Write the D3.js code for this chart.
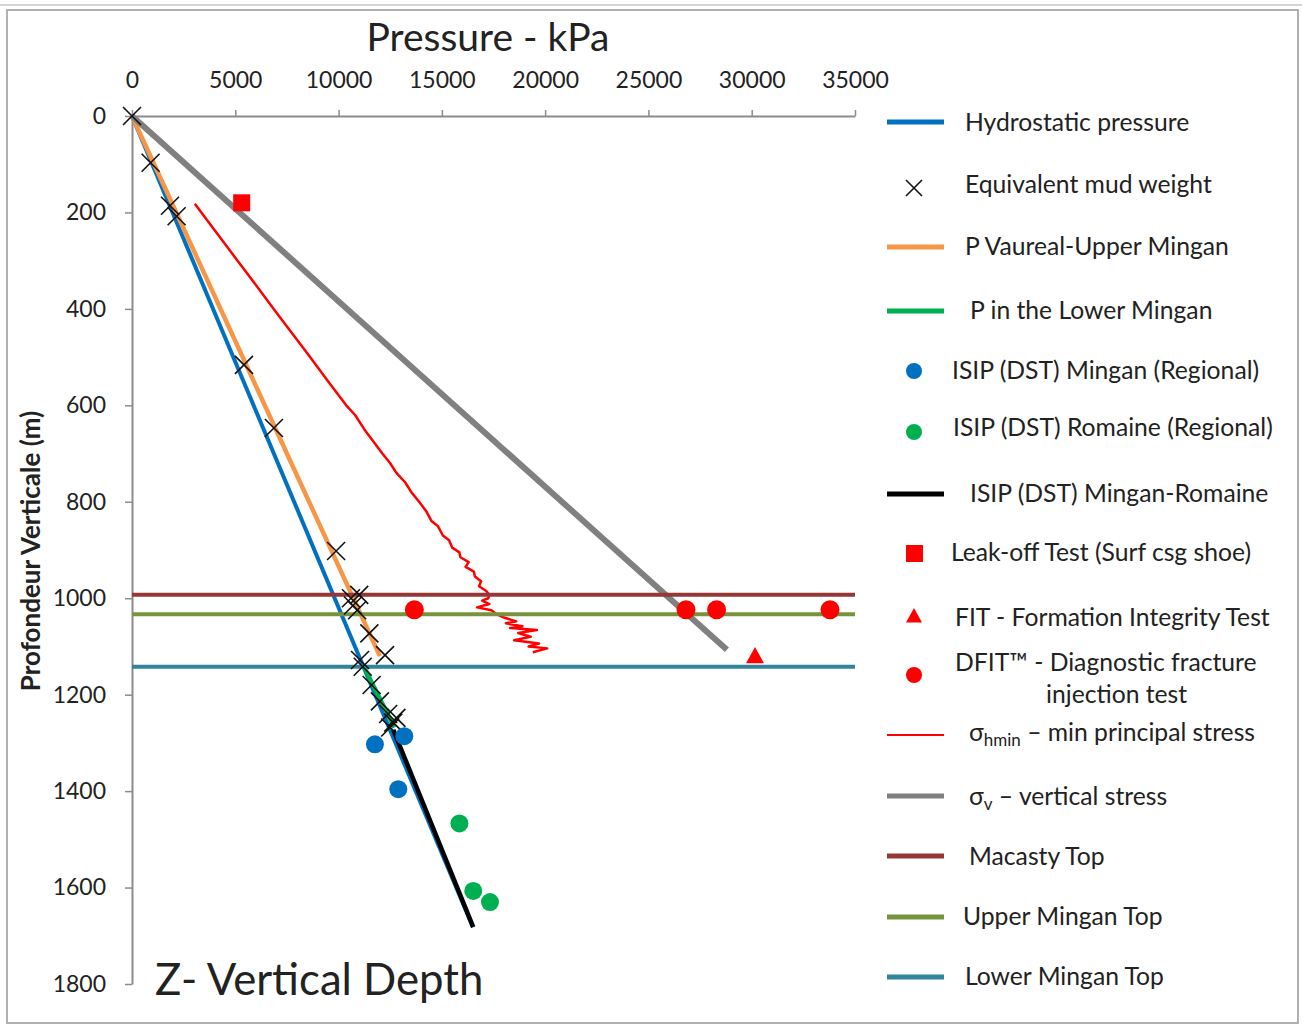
<!DOCTYPE html>
<html>
<head>
<meta charset="utf-8">
<script src="https://cdn.jsdelivr.net/npm/d3@7"></script>
<style>
  body { margin: 0; background: #fff; }
  text { font-family: Lato, "Open Sans", sans-serif; fill: #222; }
</style>
</head>
<body>
<svg id="canvas" width="1302" height="1026"></svg>
<script>
// axis ticks
let pressureTicks = [0, 5000, 10000, 15000, 20000, 25000, 30000, 35000]
let depthTicks = [0, 200, 400, 600, 800, 1000, 1200, 1400, 1600, 1800]

// lines (pressure kPa / depth m)
let hydroP = [0, 16500], hydroD = [0, 1682]
let vaurealP = [0, 12000], vaurealD = [0, 1120]
let lowerMinganP = [11200, 12700], lowerMinganD = [1140, 1268]
let isipLineP = [12650, 16520], isipLineD = [1273, 1682]
let sigmaVP = [0, 28800], sigmaVD = [0, 1107]

// sigma hmin curve
let sigmaHP = [3040, 4230, 5110, 5990, 6860, 7740, 8620, 9490, 10370, 10800, 11250, 12120, 12500, 12800,
  13230, 13520, 13900, 14250, 14500, 14800, 15050, 15350, 15500, 15850, 15900, 16300, 16150, 16550,
  16600, 16900, 16800, 17150, 17300, 17250, 16950, 17300, 16700, 17400, 17650, 18000, 18600, 18100,
  18900, 18300, 19600, 18700, 19300, 18500, 19700, 19200, 20100, 19400]
let sigmaHD = [182, 250, 300, 350, 400, 450, 500, 550, 600, 620, 650, 700, 720, 740,
  760, 780, 800, 820, 840, 850, 870, 880, 895, 905, 915, 925, 935, 945,
  955, 965, 975, 985, 993, 1000, 1005, 1012, 1019, 1025, 1033, 1040, 1048, 1052,
  1058, 1062, 1066, 1072, 1080, 1087, 1094, 1100, 1104, 1112]

// equivalent mud weight points
let mudP = [0, 900, 1840, 2160, 5420, 6870, 9880, 10600, 11000, 10700, 10900, 11490, 12250, 11040, 11170,
  11600, 12000, 12400, 12650, 12800, 12500]
let mudD = [0, 97, 186, 208, 516, 647, 902, 1000, 993, 1015, 1025, 1073, 1118, 1128, 1142,
  1180, 1214, 1240, 1258, 1248, 1268]

let isipMinganP = [11760, 13180, 12890], isipMinganD = [1303, 1286, 1396]
let isipRomaineP = [15850, 16520, 17330], isipRomaineD = [1467, 1607, 1630]
let leakOffP = [5310], leakOffD = [180]
let fitP = [30160], fitD = [1120]
let dfitP = [13670, 26820, 28300, 33790], dfitD = [1024, 1024, 1024, 1024]

let topNames = ['Macasty Top', 'Upper Mingan Top', 'Lower Mingan Top']
let topDepths = [993, 1033, 1142]

let colors = {
  hydro: '#0070C0', vaureal: '#F79646', lowerMingan: '#00B050', isipLine: '#000000',
  sigmaH: '#FF0000', sigmaV: '#808080', macasty: '#953735', upper: '#77933C', lower: '#31849B',
  romaine: '#00B050', red: '#FF0000'
}

let canvas = d3.select('#canvas')

// frame
canvas.append('line').attr('x1', 0).attr('x2', 1302).attr('y1', 5).attr('y2', 5)
      .attr('stroke', '#d4d4d4').attr('stroke-width', 2)
canvas.append('rect').attr('x', 7).attr('y', 10).attr('width', 1291).attr('height', 1013)
      .attr('fill', 'none').attr('stroke', '#b0b0b0').attr('stroke-width', 2)

let x = d3.scaleLinear().domain([0, 35000]).range([132, 855])
let y = d3.scaleLinear().domain([0, 1800]).range([116, 984])

let xAxis = d3.axisTop(x).tickValues(pressureTicks).tickSize(6).tickSizeOuter(0).tickPadding(22)
              .tickFormat(d3.format('d'))
let yAxis = d3.axisLeft(y).tickValues(depthTicks).tickSize(7).tickSizeOuter(0).tickPadding(19)
              .tickFormat(d3.format('d'))

let gx = canvas.append('g').attr('transform', 'translate(0,116)').call(xAxis)
let gy = canvas.append('g').attr('transform', 'translate(132,0)').call(yAxis)
;[gx, gy].forEach(g => {
  g.select('.domain').attr('stroke', '#8c8c8c').attr('stroke-width', 2)
  g.selectAll('.tick line').attr('stroke', '#8c8c8c').attr('stroke-width', 1.5)
  g.selectAll('.tick text').attr('font-size', 23).attr('fill', '#222')
    .style('font-family', 'Lato, sans-serif')
})

// titles
canvas.append('text').attr('x', 488).attr('y', 51).attr('text-anchor', 'middle')
      .attr('font-size', 39).text('Pressure - kPa')
canvas.append('text').attr('transform', 'translate(40,551) rotate(-90)').attr('text-anchor', 'middle')
      .attr('font-size', 26).attr('font-weight', 'bold').text('Profondeur Verticale (m)')
canvas.append('text').attr('x', 155).attr('y', 995).attr('font-size', 43.7).text('Z- Vertical Depth')

let zip = (ps, ds) => ps.map((p, i) => [p, ds[i]])
let line = d3.line().x(d => x(d[0])).y(d => y(d[1]))

let drawLine = (ps, ds, color, width) => {
  canvas.append('path').datum(zip(ps, ds)).attr('d', line)
        .attr('fill', 'none').attr('stroke', color).attr('stroke-width', width)
        .attr('stroke-linejoin', 'round')
}

drawLine(hydroP, hydroD, colors.hydro, 4)
drawLine(vaurealP, vaurealD, colors.vaureal, 4.5)
drawLine(lowerMinganP, lowerMinganD, colors.lowerMingan, 4.5)
drawLine(isipLineP, isipLineD, colors.isipLine, 4.5)
drawLine(sigmaHP, sigmaHD, colors.sigmaH, 2.5)
drawLine(sigmaVP, sigmaVD, colors.sigmaV, 6)

// formation tops
let topColors = [colors.macasty, colors.upper, colors.lower]
canvas.selectAll('line.top')
      .data(topDepths)
      .enter()
      .append('line')
      .attr('class', 'top')
      .attr('x1', x(0)).attr('x2', x(35000))
      .attr('y1', d => y(d)).attr('y2', d => y(d))
      .attr('stroke', (d, i) => topColors[i]).attr('stroke-width', 4)

// markers
let crossPath = s => `M${-s},${-s}L${s},${s}M${-s},${s}L${s},${-s}`
canvas.selectAll('path.mud')
      .data(zip(mudP, mudD))
      .enter()
      .append('path')
      .attr('class', 'mud')
      .attr('transform', d => `translate(${x(d[0])},${y(d[1])})`)
      .attr('d', crossPath(9))
      .attr('stroke', '#111').attr('stroke-width', 1.6).attr('fill', 'none')

let drawDots = (ps, ds, color, r) => {
  canvas.append('g').selectAll('circle')
        .data(zip(ps, ds))
        .enter()
        .append('circle')
        .attr('cx', d => x(d[0])).attr('cy', d => y(d[1])).attr('r', r)
        .attr('fill', color)
}
drawDots(isipMinganP, isipMinganD, colors.hydro, 9)
drawDots(isipRomaineP, isipRomaineD, colors.romaine, 9)
drawDots(dfitP, dfitD, colors.red, 9.5)

canvas.append('g').selectAll('rect')
      .data(zip(leakOffP, leakOffD))
      .enter()
      .append('rect')
      .attr('x', d => x(d[0]) - 8.5).attr('y', d => y(d[1]) - 8.5)
      .attr('width', 17).attr('height', 17).attr('fill', colors.red)

let triPath = s => `M0,${-s}L${s},${s * 0.8}L${-s},${s * 0.8}Z`
canvas.append('g').selectAll('path')
      .data(zip(fitP, fitD))
      .enter()
      .append('path')
      .attr('transform', d => `translate(${x(d[0])},${y(d[1])})`)
      .attr('d', triPath(9)).attr('fill', colors.red)

// legend
let legendItems = [
  { label: 'Hydrostatic pressure', kind: 'line', color: colors.hydro },
  { label: 'Equivalent mud  weight', kind: 'cross' },
  { label: 'P Vaureal-Upper Mingan', kind: 'line', color: colors.vaureal },
  { label: 'P in the Lower Mingan', kind: 'line', color: colors.lowerMingan },
  { label: 'ISIP (DST) Mingan (Regional)', kind: 'dot', color: colors.hydro },
  { label: 'ISIP (DST) Romaine (Regional)', kind: 'dot', color: colors.romaine },
  { label: 'ISIP (DST) Mingan-Romaine', kind: 'line', color: colors.isipLine },
  { label: 'Leak-off Test (Surf csg shoe)', kind: 'square', color: colors.red },
  { label: 'FIT - Formation Integrity Test', kind: 'triangle', color: colors.red },
  { label: 'DFIT\u2122 - Diagnostic fracture', kind: 'dot', color: colors.red },
  { label: 'sigmaH', kind: 'thin', color: colors.sigmaH },
  { label: 'sigmaV', kind: 'line', color: colors.sigmaV },
  { label: topNames[0], kind: 'line', color: colors.macasty },
  { label: topNames[1], kind: 'line', color: colors.upper },
  { label: topNames[2], kind: 'line', color: colors.lower }
]
let legendRowY = [122, 184, 246, 310, 370, 427, 493, 552, 617, 662, 732, 796, 856, 916, 976]
let legendTextX = [965, 965, 965, 970, 952, 953, 970, 951, 955, 955, 969, 969, 969, 963, 965]
let markerY = [122, 188, 247, 311, 371, 432, 494, 553, 616, 675, 735, 796, 856, 917, 977]

let legend = canvas.append('g')
legendItems.forEach((item, i) => {
  let my = markerY[i]
  if (item.kind === 'line' || item.kind === 'thin') {
    legend.append('line').attr('x1', 887).attr('x2', 944).attr('y1', my).attr('y2', my)
          .attr('stroke', item.color).attr('stroke-width', item.kind === 'thin' ? 2 : 5)
  } else if (item.kind === 'cross') {
    legend.append('path').attr('transform', `translate(914,${my})`).attr('d', crossPath(8))
          .attr('stroke', '#111').attr('stroke-width', 1.6)
  } else if (item.kind === 'dot') {
    legend.append('circle').attr('cx', 914).attr('cy', my).attr('r', 8).attr('fill', item.color)
  } else if (item.kind === 'square') {
    legend.append('rect').attr('x', 906).attr('y', my - 8).attr('width', 17).attr('height', 17)
          .attr('fill', item.color)
  } else if (item.kind === 'triangle') {
    legend.append('path').attr('transform', `translate(914,${my})`).attr('d', triPath(8))
          .attr('fill', item.color)
  }

  let t = legend.append('text').attr('x', legendTextX[i]).attr('y', legendRowY[i]).attr('dy', '0.35em')
                .attr('font-size', 24.7)
  if (item.label === 'sigmaH') {
    t.append('tspan').text('\u03c3')
    t.append('tspan').attr('font-size', 17).attr('dy', 5).text('hmin')
    t.append('tspan').attr('dy', -5).text(' \u2013 min principal stress')
  } else if (item.label === 'sigmaV') {
    t.append('tspan').text('\u03c3')
    t.append('tspan').attr('font-size', 17).attr('dy', 5).text('v')
    t.append('tspan').attr('dy', -5).text(' \u2013  vertical stress')
  } else {
    t.text(item.label)
  }
})
legend.append('text').attr('x', 1046).attr('y', 694).attr('dy', '0.35em').attr('font-size', 24.7)
      .text('injection test')
</script>
</body>
</html>
